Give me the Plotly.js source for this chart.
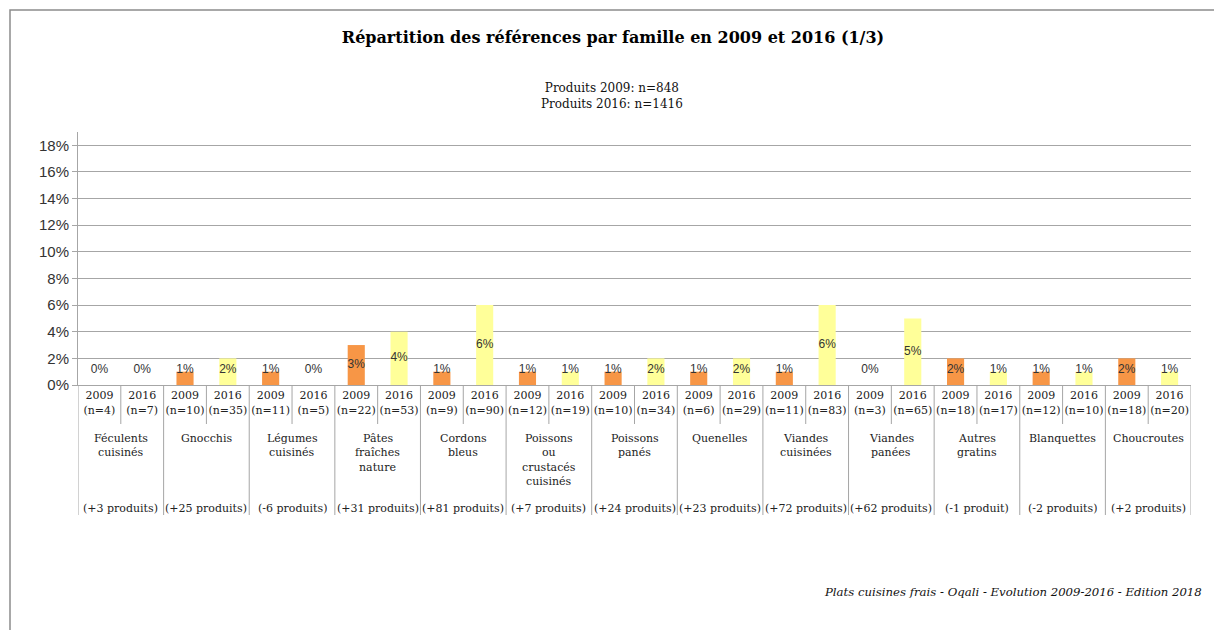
<!DOCTYPE html>
<html><head><meta charset="utf-8">
<script src="https://cdn.plot.ly/plotly-3.0.1.min.js"></script>
<style>html,body{margin:0;padding:0;background:#fff;overflow:hidden}#chart{width:1214px;height:630px}</style>
</head><body><div id="chart"></div>
<script>
// ---- data ----
const families = ["Féculents<br>cuisinés","Gnocchis","Légumes<br>cuisinés","Pâtes<br>fraîches<br>nature","Cordons<br>bleus","Poissons<br>ou<br>crustacés<br>cuisinés","Poissons<br>panés","Quenelles","Viandes<br>cuisinées","Viandes<br>panées","Autres<br>gratins","Blanquettes","Choucroutes"];
const deltas = ["(+3 produits)","(+25 produits)","(-6 produits)","(+31 produits)","(+81 produits)","(+7 produits)","(+24 produits)","(+23 produits)","(+72 produits)","(+62 produits)","(-1 produit)","(-2 produits)","(+2 produits)"];
const years = ["2009","2016"];
const n2009 = [4,10,11,22,9,12,10,6,11,3,18,12,18];
const n2016 = [7,35,5,53,90,19,34,29,83,65,17,10,20];
const pct2009 = [0,1,1,3,1,1,1,1,1,0,2,1,2];
const pct2016 = [0,2,0,4,6,1,2,2,6,5,1,1,1];
const title = "Répartition des références par famille en 2009 et 2016 (1/3)";
const subtitle = "Produits 2009: n=848<br>Produits 2016: n=1416";
const footer = "Plats cuisines frais - Oqali - Evolution 2009-2016 - Edition 2018";

// ---- build ----
const serif = "DejaVu Serif, Liberation Serif, serif";
const sans = "Liberation Sans, Arial, sans-serif";
const x09 = families.map((_, i) => 2 * i);
const x16 = families.map((_, i) => 2 * i + 1);
const tickvals = [], ticktext = [];
families.forEach((_, i) => {
  tickvals.push(2 * i, 2 * i + 1);
  ticktext.push(years[0] + "<br>(n=" + n2009[i] + ")", years[1] + "<br>(n=" + n2016[i] + ")");
});
const labelY = v => Math.max(v / 2, 1.13) / 100;
const allX = x09.concat(x16);
const allV = pct2009.concat(pct2016);

const traces = [
  {type: "bar", x: x09, y: pct2009.map(v => v / 100), width: 0.4, marker: {color: "#F79646"}, hoverinfo: "skip", name: years[0]},
  {type: "bar", x: x16, y: pct2016.map(v => v / 100), width: 0.4, marker: {color: "#FFFF99"}, hoverinfo: "skip", name: years[1]},
  {type: "scatter", mode: "text", x: allX, y: allV.map(labelY), text: allV.map(v => v + "%"),
   textfont: {family: sans, size: 12, color: "#333"}, hoverinfo: "skip"}
];

// plot area pixels: left 78, right 1191, top 132, bottom 385
const PH = 253;
const py = Y => (385 - Y) / PH;
const px = X => (X - 78) / 1113;

const shapes = [];
for (let k = 0; k <= 2 * families.length; k++) {
  shapes.push({type: "line", xref: "x", yref: "paper", x0: k - 0.5, x1: k - 0.5,
    y0: 0, y1: (k % 2 === 0) ? py(515) : py(424), line: {color: "#a6a6a6", width: 1}});
}
shapes.push({type: "rect", xref: "paper", yref: "paper", x0: px(10), x1: px(1220), y0: py(10), y1: py(640),
  line: {color: "#8c8c8c", width: 1.5}, fillcolor: "rgba(0,0,0,0)"});

const annotations = [];
families.forEach((f, i) => {
  f.split("<br>").forEach((line, j) => {
    annotations.push({xref: "x", yref: "paper", x: 2 * i + 0.5, y: py(438), yanchor: "middle",
      yshift: -14.5 * j, text: line, showarrow: false, font: {family: serif, size: 11, color: "#222"}});
  });
  annotations.push({xref: "x", yref: "paper", x: 2 * i + 0.5, y: py(508), yanchor: "middle",
    text: deltas[i], showarrow: false, font: {family: serif, size: 11, color: "#222"}});
});
annotations.push({xref: "paper", yref: "paper", x: px(612), y: py(96.5), yanchor: "middle",
  text: subtitle, showarrow: false, font: {family: serif, size: 12, color: "#111"}});
annotations.push({xref: "paper", yref: "paper", x: px(1204), xanchor: "right", y: py(592), yanchor: "middle",
  text: "<i>" + footer + "</i>", showarrow: false, font: {family: serif, size: 11.7, color: "#111"}});

const layout = {
  width: 1214, height: 630,
  margin: {l: 78, r: 23, t: 132, b: 245, pad: 0},
  paper_bgcolor: "#fff", plot_bgcolor: "#fff",
  showlegend: false, barmode: "overlay",
  title: {text: "<b>" + title + "</b>", x: 613 / 1214, xanchor: "center", xref: "container",
    y: 1 - 37 / 630, yanchor: "middle", font: {family: serif, size: 16, color: "#000"}},
  xaxis: {range: [-0.5, 2 * families.length - 0.5], tickvals: tickvals, ticktext: ticktext,
    ticks: "", showgrid: false, zeroline: false, showline: true, linecolor: "#a6a6a6", linewidth: 1,
    tickfont: {family: serif, size: 11, color: "#222"}, fixedrange: true},
  yaxis: {range: [0, 0.19], tick0: 0, dtick: 0.02, tickformat: ".0%", ticks: "outside", ticklen: 5,
    tickcolor: "#a6a6a6", showline: true, linecolor: "#a6a6a6", linewidth: 1,
    gridcolor: "#a6a6a6", gridwidth: 1, zeroline: false,
    tickfont: {family: sans, size: 15, color: "#333"}, fixedrange: true},
  shapes: shapes, annotations: annotations
};
Plotly.newPlot("chart", traces, layout, {staticPlot: true, displayModeBar: false});
</script>
</body></html>
